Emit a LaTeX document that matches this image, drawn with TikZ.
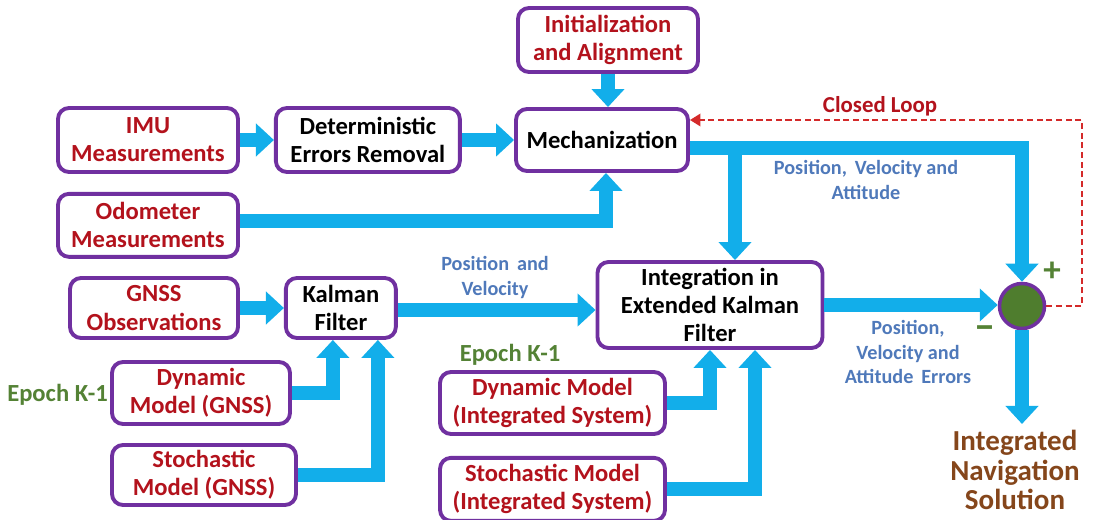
\documentclass[tikz,border=0pt]{standalone}
\usepackage{fontspec}
\setmainfont{Carlito}
\usetikzlibrary{positioning,arrows.meta}
\definecolor{boxpurple}{HTML}{7030A0}
\definecolor{boxred}{HTML}{B3121C}
\definecolor{flowcyan}{HTML}{12AEEA}
\definecolor{labelblue}{HTML}{4F79BA}
\definecolor{epochgreen}{HTML}{548235}
\definecolor{sumgreen}{HTML}{4F7D2E}
\definecolor{outbrown}{HTML}{85461B}
\definecolor{loopred}{HTML}{D42A2A}

\tikzset{
  block/.style={draw=boxpurple, line width=2.2pt, rounded corners=0.22cm,
                fill=white, align=center, inner sep=2pt,
                font=\fontsize{14}{16}\selectfont\bfseries},
  inblock/.style={block, text=boxred},
  flow/.style={draw=flowcyan, line width=0.28cm,
               -{Triangle[width=0.64cm,length=0.36cm]}},
  bluelabel/.style={text=labelblue, align=center,
                    font=\fontsize{11.5}{14}\selectfont\bfseries},
  epochlabel/.style={text=epochgreen, font=\fontsize{14}{16}\selectfont\bfseries}
}

\begin{document}
\begin{tikzpicture}
  \useasboundingbox (0,0) rectangle (21.88,-10.4);

  \node[inblock, minimum width=3.6cm, minimum height=1.28cm] (imu) at (2.96,-2.8)
    {IMU\\Measurements};
  \node[block, minimum width=3.68cm, minimum height=1.28cm,
        right = 0.68 of imu] (det) {Deterministic\\Errors Removal};
  \node[block, minimum width=3.44cm, minimum height=1.24cm] (mech) at (12.04,-2.8)
    {Mechanization};
  \node[inblock, minimum width=3.6cm, minimum height=1.28cm] (init) at (12.16,-0.8)
    {Initialization\\and Alignment};
  \node[inblock, minimum width=3.6cm, minimum height=1.26cm,
        below = 0.36 of imu] (odo) {Odometer\\Measurements};

  \node[inblock, minimum width=3.36cm, minimum height=1.2cm] (gnss) at (3.08,-6.16)
    {GNSS\\Observations};
  \node[block, minimum width=2.2cm, minimum height=1.2cm,
        right = 0.88 of gnss] (kal) {Kalman\\Filter};
  \node[inblock, minimum width=3.56cm, minimum height=1.24cm] (dyng) at (4.02,-7.86)
    {Dynamic\\Model (GNSS)};
  \node[inblock, minimum width=3.68cm, minimum height=1.2cm] (stog) at (4.08,-9.5)
    {Stochastic\\Model (GNSS)};

  \node[block, minimum width=4.5cm, minimum height=1.72cm] (integ) at (14.2,-6.1)
    {Integration in\\Extended Kalman\\Filter};
  \node[inblock, minimum width=4.5cm, minimum height=1.24cm] (dyni) at (11.05,-8.06)
    {Dynamic Model\\(Integrated System)};
  \node[inblock, minimum width=4.5cm, minimum height=1.26cm,
        below = 0.4 of dyni] (stoi) {Stochastic Model\\(Integrated System)};

  \node[circle, fill=sumgreen, draw=boxpurple, line width=2pt,
        minimum size=0.9cm] (sum) at (20.44,-6.12) {};
  \node[text=outbrown, align=center, font=\fontsize{16.5}{16.8}\selectfont\bfseries]
    (out) at (20.3,-9.4) {Integrated\\Navigation\\Solution};

  \coordinate (split) at (14.7,-2.96);
  \coordinate (loopc) at (21.64,-2.4);

  \draw[flow] (imu) -- (det);
  \draw[flow] (det) -- (mech);
  \draw[flow] (init.south) -- (init.south |- mech.north);
  \draw[flow] ([yshift=0.09cm]odo.east) -| ([xshift=0.08cm]mech.south);
  \draw[flow] ([yshift=-0.16cm]mech.east) -| (sum);
  \draw[flow] (split) -- (split |- integ.north);
  \draw[flow] (gnss) -- (kal);
  \draw[flow] ([yshift=-0.04cm]kal.east) -- ([yshift=-0.04cm]kal.east -| integ.west);
  \draw[flow] (dyng.east) -| ([xshift=-0.16cm]kal.south);
  \draw[flow] (stog.east) -| ([xshift=0.74cm]kal.south);
  \draw[flow] (dyni.east) -| (integ.south);
  \draw[flow] (stoi.east) -| ([xshift=0.9cm]integ.south);
  \draw[flow] (integ.east) -- (integ.east -| sum.west);
  \draw[flow] (sum) -- (sum |- out.north);
  \draw[loopred, line width=1.4pt, dash pattern=on 3.5pt off 2pt,
        -{Triangle[width=7pt,length=6pt]}]
    (sum.east) -| (loopc) -- (loopc -| mech.east);

  \node[text=boxred, font=\fontsize{13}{15}\selectfont\bfseries] (closed) at (17.6,-2.12)
    {Closed Loop};
  \node[bluelabel] (pva) at (17.32,-3.6) {Position,\, Velocity and\\Attitude};
  \node[bluelabel] (pv) at (9.9,-5.55) {Position\, and\\Velocity};
  \node[bluelabel] (pvae) at (18.16,-7.04) {Position,\\Velocity and\\Attitude\, Errors};
  \node[epochlabel] (epoch1) at (1.15,-7.9) {Epoch K-1};
  \node[epochlabel] (epoch2) at (10.2,-7.1) {Epoch K-1};
  \node[text=epochgreen, font=\fontsize{20}{20}\selectfont\bfseries] (plus) at (21.04,-5.44) {+};
  \node[text=epochgreen, font=\fontsize{24}{24}\selectfont\bfseries] (minus) at (19.7,-6.66) {–};
\end{tikzpicture}
\end{document}
